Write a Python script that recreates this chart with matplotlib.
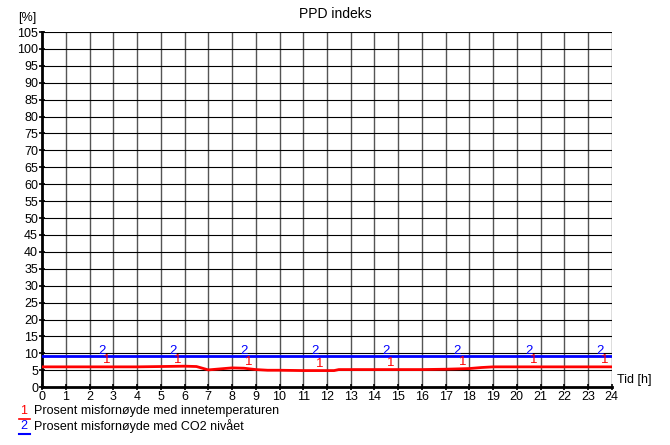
import matplotlib
matplotlib.use("Agg")
import matplotlib.pyplot as plt

plt.rcParams['font.family'] = ['Liberation Sans', 'DejaVu Sans']

hours = [0, 1, 2, 3, 4, 5, 6, 6.5, 7, 7.5, 8, 8.5, 9, 9.5, 10, 11, 12, 12.3, 12.5, 13, 14, 15, 16, 17, 18, 18.5, 19, 20, 21, 22, 23, 24]
ppd_temp = [6.0, 6.0, 6.0, 6.0, 6.0, 6.1, 6.2, 6.1, 5.1, 5.4, 5.7, 5.6, 5.2, 5.0, 5.0, 4.9, 4.9, 4.9, 5.2, 5.2, 5.2, 5.2, 5.2, 5.3, 5.5, 5.8, 6.0, 6.0, 6.0, 6.0, 6.0, 6.0]
co2_hours = [0, 24]
ppd_co2 = [9.1, 9.1]

marker_x_temp = [2.7, 5.7, 8.7, 11.7, 14.7, 17.7, 20.7, 23.7]
marker_x_co2 = [2.5, 5.5, 8.5, 11.5, 14.5, 17.5, 20.5, 23.5]

fig = plt.figure(figsize=(6.7, 4.45), dpi=100)
ax = fig.add_axes([0.063, 0.13, 0.85, 0.798])

ax.set_xlim(0, 24)
ax.set_ylim(0, 105)
ax.set_xticks(range(0, 25))
ax.set_yticks(range(0, 106, 5))
ax.tick_params(labelsize=9, length=4, direction='inout', width=1.2, pad=1)

for h in range(1, 25):
    ax.axvline(h, color='#555555', lw=1, zorder=1)
for v in range(5, 106, 5):
    ax.axhline(v, color='black', lw=0.8, zorder=1)

for s in ['top', 'right']:
    ax.spines[s].set_visible(False)
ax.spines['left'].set_linewidth(2)
ax.spines['bottom'].set_linewidth(2)

ax.plot(hours, ppd_temp, color='#ff0000', lw=2, zorder=3)
ax.plot(co2_hours, ppd_co2, color='#0000ff', lw=2, zorder=3)

for mx in marker_x_temp:
    y = 0
    for i in range(len(hours) - 1):
        if hours[i] <= mx <= hours[i + 1]:
            t = (mx - hours[i]) / (hours[i + 1] - hours[i])
            y = ppd_temp[i] + t * (ppd_temp[i + 1] - ppd_temp[i])
    ax.text(mx, y + 0.2, '1', color='#ff0000', fontsize=9.5, ha='center', va='bottom', zorder=4)
for mx in marker_x_co2:
    ax.text(mx, ppd_co2[0] - 0.1, '2', color='#0000ff', fontsize=9.5, ha='center', va='bottom', zorder=4)

fig.text(0.5, 0.985, 'PPD indeks', ha='center', va='top', fontsize=10)
fig.text(0.027, 0.972, '[%]', ha='left', va='top', fontsize=9)
fig.text(0.921, 0.145, 'Tid [h]', ha='left', va='center', fontsize=9)

fig.text(0.03, 0.076, '1', color='#ff0000', fontsize=9, ha='left', va='center')
fig.text(0.05, 0.076, 'Prosent misfornøyde med innetemperaturen', fontsize=9, ha='left', va='center')
fig.text(0.03, 0.043, '2', color='#0000ff', fontsize=9, ha='left', va='center')
fig.text(0.05, 0.043, 'Prosent misfornøyde med CO2 nivået', fontsize=9, ha='left', va='center')
fig.add_artist(plt.Line2D([0.028, 0.045], [0.058, 0.058], color='#ff0000', lw=1.2))
fig.add_artist(plt.Line2D([0.028, 0.045], [0.025, 0.025], color='#0000ff', lw=1.5))

fig.savefig('out.png', dpi=100)
